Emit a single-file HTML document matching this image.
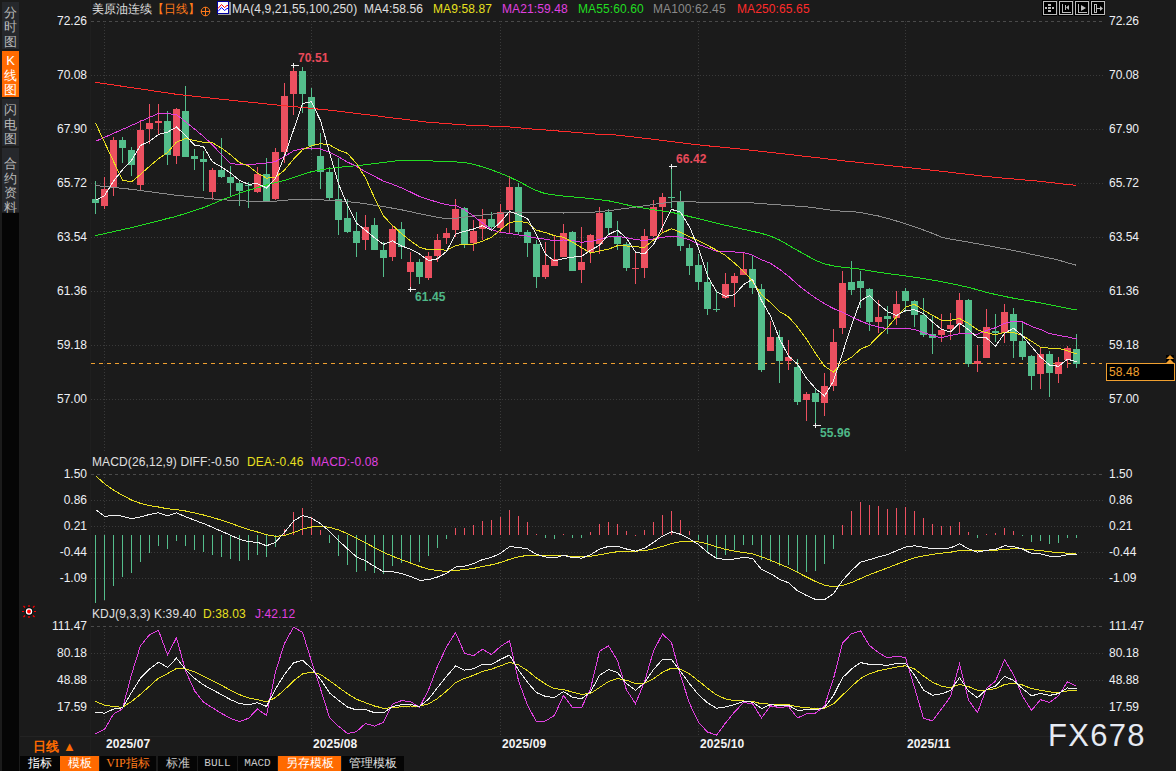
<!DOCTYPE html>
<html><head><meta charset="utf-8">
<style>
html,body{margin:0;padding:0;}
body{width:1176px;height:771px;overflow:hidden;background:#1b1b1b;position:relative;font-family:"Liberation Sans",sans-serif;font-size:12px;color:#e8e8e8;}
.t{position:absolute;white-space:nowrap;line-height:14px;letter-spacing:0.12px;}
.ax{position:absolute;white-space:nowrap;line-height:14px;color:#eef0f4;text-align:right;}
.axl{width:60px;left:27px;}
.axr{left:1109px;text-align:left;}
.side{position:absolute;left:2px;width:17px;background:#26282c;color:#b8b8b8;font-size:13px;line-height:14.5px;text-align:center;box-sizing:border-box;}
.tb{position:absolute;top:756px;height:15px;background:#050505;color:#d8d8d8;font-size:12px;line-height:15px;text-align:center;}
svg{position:absolute;left:0;top:0;}
</style></head><body>
<div class="side" style="top:2px;height:47px;padding-top:3.5px;">分<br>时<br>图</div>
<div class="side" style="top:51px;height:46px;background:#ff6a00;color:#fff;padding-top:3px;">K<br>线<br>图</div>
<div class="side" style="top:99px;height:47px;padding-top:4px;">闪<br>电<br>图</div>
<div class="side" style="top:148px;height:64px;padding-top:9px;">合<br>约<br>资<br>料</div>
<div style="position:absolute;left:2px;top:213px;width:17px;height:558px;background:#050505;"></div>

<svg width="1176" height="771">
<g shape-rendering="crispEdges">
<line x1="91" y1="21.5" x2="1104" y2="21.5" stroke="#4a4a4a" stroke-dasharray="3,3"/>
<line x1="91" y1="75.5" x2="1104" y2="75.5" stroke="#3a3a3a" stroke-dasharray="1,2"/>
<line x1="91" y1="129.5" x2="1104" y2="129.5" stroke="#3a3a3a" stroke-dasharray="1,2"/>
<line x1="91" y1="183.5" x2="1104" y2="183.5" stroke="#3a3a3a" stroke-dasharray="1,2"/>
<line x1="91" y1="237.5" x2="1104" y2="237.5" stroke="#3a3a3a" stroke-dasharray="1,2"/>
<line x1="91" y1="291.5" x2="1104" y2="291.5" stroke="#3a3a3a" stroke-dasharray="1,2"/>
<line x1="91" y1="345.5" x2="1104" y2="345.5" stroke="#3a3a3a" stroke-dasharray="1,2"/>
<line x1="91" y1="399.5" x2="1104" y2="399.5" stroke="#3a3a3a" stroke-dasharray="1,2"/>
<line x1="104.5" y1="21" x2="104.5" y2="451" stroke="#3a3a3a" stroke-dasharray="1,2"/>
<line x1="104.5" y1="474" x2="104.5" y2="603" stroke="#3a3a3a" stroke-dasharray="1,2"/>
<line x1="104.5" y1="626" x2="104.5" y2="735" stroke="#3a3a3a" stroke-dasharray="1,2"/>
<line x1="311.5" y1="21" x2="311.5" y2="451" stroke="#3a3a3a" stroke-dasharray="1,2"/>
<line x1="311.5" y1="474" x2="311.5" y2="603" stroke="#3a3a3a" stroke-dasharray="1,2"/>
<line x1="311.5" y1="626" x2="311.5" y2="735" stroke="#3a3a3a" stroke-dasharray="1,2"/>
<line x1="500.5" y1="21" x2="500.5" y2="451" stroke="#3a3a3a" stroke-dasharray="1,2"/>
<line x1="500.5" y1="474" x2="500.5" y2="603" stroke="#3a3a3a" stroke-dasharray="1,2"/>
<line x1="500.5" y1="626" x2="500.5" y2="735" stroke="#3a3a3a" stroke-dasharray="1,2"/>
<line x1="698.5" y1="21" x2="698.5" y2="451" stroke="#3a3a3a" stroke-dasharray="1,2"/>
<line x1="698.5" y1="474" x2="698.5" y2="603" stroke="#3a3a3a" stroke-dasharray="1,2"/>
<line x1="698.5" y1="626" x2="698.5" y2="735" stroke="#3a3a3a" stroke-dasharray="1,2"/>
<line x1="905.5" y1="21" x2="905.5" y2="451" stroke="#3a3a3a" stroke-dasharray="1,2"/>
<line x1="905.5" y1="474" x2="905.5" y2="603" stroke="#3a3a3a" stroke-dasharray="1,2"/>
<line x1="905.5" y1="626" x2="905.5" y2="735" stroke="#3a3a3a" stroke-dasharray="1,2"/>
<line x1="91" y1="474.5" x2="1104" y2="474.5" stroke="#4a4a4a" stroke-dasharray="3,3"/>
<line x1="91" y1="500.5" x2="1104" y2="500.5" stroke="#3a3a3a" stroke-dasharray="1,2"/>
<line x1="91" y1="526.5" x2="1104" y2="526.5" stroke="#3a3a3a" stroke-dasharray="1,2"/>
<line x1="91" y1="552.5" x2="1104" y2="552.5" stroke="#3a3a3a" stroke-dasharray="1,2"/>
<line x1="91" y1="578.5" x2="1104" y2="578.5" stroke="#3a3a3a" stroke-dasharray="1,2"/>
<line x1="91" y1="626.5" x2="1104" y2="626.5" stroke="#4a4a4a" stroke-dasharray="3,3"/>
<line x1="91" y1="653.5" x2="1104" y2="653.5" stroke="#3a3a3a" stroke-dasharray="1,2"/>
<line x1="91" y1="680.5" x2="1104" y2="680.5" stroke="#3a3a3a" stroke-dasharray="1,2"/>
<line x1="91" y1="707.5" x2="1104" y2="707.5" stroke="#3a3a3a" stroke-dasharray="1,2"/>
<line x1="90.5" y1="0" x2="90.5" y2="755" stroke="#1f1f1f"/>
<line x1="20" y1="736.5" x2="1104" y2="736.5" stroke="#232323"/>
</g>
<line x1="91" y1="363.5" x2="1102" y2="363.5" stroke="#f0a030" stroke-dasharray="4,4" shape-rendering="crispEdges"/>
<g shape-rendering="crispEdges">
<rect x="95" y="181" width="1" height="33" fill="#54be8c"/>
<rect x="92" y="199" width="7" height="4" fill="#54be8c"/>
<rect x="104" y="177" width="1" height="32" fill="#ec5060"/>
<rect x="101" y="189" width="7" height="17" fill="#ec5060"/>
<rect x="113" y="137" width="1" height="59" fill="#ec5060"/>
<rect x="110" y="140" width="7" height="48" fill="#ec5060"/>
<rect x="122" y="137" width="1" height="26" fill="#54be8c"/>
<rect x="119" y="140" width="7" height="8" fill="#54be8c"/>
<rect x="131" y="147" width="1" height="29" fill="#54be8c"/>
<rect x="128" y="150" width="7" height="15" fill="#54be8c"/>
<rect x="140" y="120" width="1" height="71" fill="#ec5060"/>
<rect x="137" y="130" width="7" height="55" fill="#ec5060"/>
<rect x="149" y="104" width="1" height="40" fill="#ec5060"/>
<rect x="146" y="123" width="7" height="6" fill="#ec5060"/>
<rect x="158" y="104" width="1" height="30" fill="#ec5060"/>
<rect x="155" y="121" width="7" height="2" fill="#ec5060"/>
<rect x="167" y="111" width="1" height="54" fill="#54be8c"/>
<rect x="164" y="121" width="7" height="34" fill="#54be8c"/>
<rect x="176" y="108" width="1" height="56" fill="#ec5060"/>
<rect x="173" y="109" width="7" height="47" fill="#ec5060"/>
<rect x="185" y="86" width="1" height="71" fill="#54be8c"/>
<rect x="182" y="111" width="7" height="46" fill="#54be8c"/>
<rect x="194" y="149" width="1" height="21" fill="#54be8c"/>
<rect x="191" y="156" width="7" height="3" fill="#54be8c"/>
<rect x="203" y="151" width="1" height="40" fill="#54be8c"/>
<rect x="200" y="159" width="7" height="3" fill="#54be8c"/>
<rect x="212" y="168" width="1" height="32" fill="#ec5060"/>
<rect x="209" y="170" width="7" height="22" fill="#ec5060"/>
<rect x="221" y="138" width="1" height="40" fill="#54be8c"/>
<rect x="218" y="170" width="7" height="7" fill="#54be8c"/>
<rect x="230" y="166" width="1" height="30" fill="#54be8c"/>
<rect x="227" y="177" width="7" height="6" fill="#54be8c"/>
<rect x="239" y="180" width="1" height="26" fill="#54be8c"/>
<rect x="236" y="183" width="7" height="8" fill="#54be8c"/>
<rect x="248" y="182" width="1" height="26" fill="#54be8c"/>
<rect x="245" y="185" width="7" height="1" fill="#54be8c"/>
<rect x="257" y="167" width="1" height="26" fill="#ec5060"/>
<rect x="254" y="174" width="7" height="18" fill="#ec5060"/>
<rect x="266" y="158" width="1" height="43" fill="#54be8c"/>
<rect x="263" y="174" width="7" height="27" fill="#54be8c"/>
<rect x="275" y="148" width="1" height="52" fill="#ec5060"/>
<rect x="272" y="152" width="7" height="47" fill="#ec5060"/>
<rect x="284" y="83" width="1" height="80" fill="#ec5060"/>
<rect x="281" y="96" width="7" height="56" fill="#ec5060"/>
<rect x="293" y="63" width="1" height="52" fill="#ec5060"/>
<rect x="290" y="71" width="7" height="23" fill="#ec5060"/>
<rect x="302" y="67" width="1" height="46" fill="#54be8c"/>
<rect x="299" y="71" width="7" height="23" fill="#54be8c"/>
<rect x="311" y="88" width="1" height="62" fill="#54be8c"/>
<rect x="308" y="97" width="7" height="49" fill="#54be8c"/>
<rect x="320" y="133" width="1" height="56" fill="#54be8c"/>
<rect x="317" y="156" width="7" height="16" fill="#54be8c"/>
<rect x="329" y="167" width="1" height="33" fill="#54be8c"/>
<rect x="326" y="172" width="7" height="26" fill="#54be8c"/>
<rect x="338" y="158" width="1" height="77" fill="#54be8c"/>
<rect x="335" y="199" width="7" height="21" fill="#54be8c"/>
<rect x="347" y="199" width="1" height="34" fill="#54be8c"/>
<rect x="344" y="218" width="7" height="14" fill="#54be8c"/>
<rect x="356" y="212" width="1" height="45" fill="#54be8c"/>
<rect x="353" y="231" width="7" height="12" fill="#54be8c"/>
<rect x="365" y="215" width="1" height="35" fill="#ec5060"/>
<rect x="362" y="227" width="7" height="13" fill="#ec5060"/>
<rect x="374" y="218" width="1" height="32" fill="#54be8c"/>
<rect x="371" y="225" width="7" height="25" fill="#54be8c"/>
<rect x="383" y="242" width="1" height="35" fill="#54be8c"/>
<rect x="380" y="250" width="7" height="8" fill="#54be8c"/>
<rect x="392" y="225" width="1" height="36" fill="#ec5060"/>
<rect x="389" y="229" width="7" height="28" fill="#ec5060"/>
<rect x="401" y="222" width="1" height="37" fill="#54be8c"/>
<rect x="398" y="229" width="7" height="18" fill="#54be8c"/>
<rect x="410" y="252" width="1" height="38" fill="#ec5060"/>
<rect x="407" y="262" width="7" height="10" fill="#ec5060"/>
<rect x="419" y="259" width="1" height="25" fill="#54be8c"/>
<rect x="416" y="262" width="7" height="15" fill="#54be8c"/>
<rect x="428" y="252" width="1" height="28" fill="#ec5060"/>
<rect x="425" y="256" width="7" height="22" fill="#ec5060"/>
<rect x="437" y="234" width="1" height="28" fill="#ec5060"/>
<rect x="434" y="240" width="7" height="16" fill="#ec5060"/>
<rect x="446" y="228" width="1" height="16" fill="#ec5060"/>
<rect x="443" y="233" width="7" height="5" fill="#ec5060"/>
<rect x="455" y="199" width="1" height="38" fill="#ec5060"/>
<rect x="452" y="209" width="7" height="21" fill="#ec5060"/>
<rect x="464" y="207" width="1" height="41" fill="#54be8c"/>
<rect x="461" y="208" width="7" height="36" fill="#54be8c"/>
<rect x="473" y="220" width="1" height="31" fill="#ec5060"/>
<rect x="470" y="231" width="7" height="12" fill="#ec5060"/>
<rect x="482" y="209" width="1" height="31" fill="#ec5060"/>
<rect x="479" y="219" width="7" height="10" fill="#ec5060"/>
<rect x="491" y="212" width="1" height="18" fill="#54be8c"/>
<rect x="488" y="219" width="7" height="8" fill="#54be8c"/>
<rect x="500" y="204" width="1" height="29" fill="#ec5060"/>
<rect x="497" y="212" width="7" height="16" fill="#ec5060"/>
<rect x="509" y="176" width="1" height="58" fill="#ec5060"/>
<rect x="506" y="187" width="7" height="23" fill="#ec5060"/>
<rect x="518" y="183" width="1" height="51" fill="#54be8c"/>
<rect x="515" y="187" width="7" height="45" fill="#54be8c"/>
<rect x="527" y="230" width="1" height="27" fill="#54be8c"/>
<rect x="524" y="232" width="7" height="11" fill="#54be8c"/>
<rect x="536" y="240" width="1" height="48" fill="#54be8c"/>
<rect x="533" y="244" width="7" height="33" fill="#54be8c"/>
<rect x="545" y="242" width="1" height="37" fill="#ec5060"/>
<rect x="542" y="265" width="7" height="12" fill="#ec5060"/>
<rect x="554" y="235" width="1" height="31" fill="#ec5060"/>
<rect x="551" y="259" width="7" height="7" fill="#ec5060"/>
<rect x="563" y="224" width="1" height="33" fill="#ec5060"/>
<rect x="560" y="233" width="7" height="24" fill="#ec5060"/>
<rect x="572" y="231" width="1" height="40" fill="#54be8c"/>
<rect x="569" y="232" width="7" height="39" fill="#54be8c"/>
<rect x="581" y="227" width="1" height="56" fill="#ec5060"/>
<rect x="578" y="262" width="7" height="8" fill="#ec5060"/>
<rect x="590" y="234" width="1" height="29" fill="#ec5060"/>
<rect x="587" y="235" width="7" height="17" fill="#ec5060"/>
<rect x="599" y="207" width="1" height="47" fill="#ec5060"/>
<rect x="596" y="213" width="7" height="31" fill="#ec5060"/>
<rect x="608" y="209" width="1" height="25" fill="#54be8c"/>
<rect x="605" y="212" width="7" height="16" fill="#54be8c"/>
<rect x="617" y="221" width="1" height="29" fill="#54be8c"/>
<rect x="614" y="237" width="7" height="7" fill="#54be8c"/>
<rect x="626" y="242" width="1" height="29" fill="#54be8c"/>
<rect x="623" y="244" width="7" height="24" fill="#54be8c"/>
<rect x="635" y="251" width="1" height="33" fill="#ec5060"/>
<rect x="632" y="268" width="7" height="1" fill="#ec5060"/>
<rect x="644" y="229" width="1" height="49" fill="#ec5060"/>
<rect x="641" y="236" width="7" height="32" fill="#ec5060"/>
<rect x="653" y="200" width="1" height="37" fill="#ec5060"/>
<rect x="650" y="207" width="7" height="29" fill="#ec5060"/>
<rect x="662" y="193" width="1" height="39" fill="#ec5060"/>
<rect x="659" y="197" width="7" height="10" fill="#ec5060"/>
<rect x="671" y="166" width="1" height="42" fill="#54be8c"/>
<rect x="668" y="197" width="7" height="1" fill="#54be8c"/>
<rect x="680" y="191" width="1" height="60" fill="#54be8c"/>
<rect x="677" y="202" width="7" height="44" fill="#54be8c"/>
<rect x="689" y="244" width="1" height="31" fill="#54be8c"/>
<rect x="686" y="248" width="7" height="18" fill="#54be8c"/>
<rect x="698" y="254" width="1" height="36" fill="#54be8c"/>
<rect x="695" y="265" width="7" height="17" fill="#54be8c"/>
<rect x="707" y="262" width="1" height="53" fill="#54be8c"/>
<rect x="704" y="282" width="7" height="27" fill="#54be8c"/>
<rect x="716" y="290" width="1" height="22" fill="#54be8c"/>
<rect x="713" y="309" width="7" height="1" fill="#54be8c"/>
<rect x="725" y="273" width="1" height="26" fill="#ec5060"/>
<rect x="722" y="284" width="7" height="14" fill="#ec5060"/>
<rect x="734" y="273" width="1" height="34" fill="#ec5060"/>
<rect x="731" y="276" width="7" height="7" fill="#ec5060"/>
<rect x="743" y="253" width="1" height="22" fill="#ec5060"/>
<rect x="740" y="269" width="7" height="6" fill="#ec5060"/>
<rect x="752" y="255" width="1" height="39" fill="#54be8c"/>
<rect x="749" y="269" width="7" height="19" fill="#54be8c"/>
<rect x="761" y="284" width="1" height="88" fill="#54be8c"/>
<rect x="758" y="289" width="7" height="81" fill="#54be8c"/>
<rect x="770" y="321" width="1" height="30" fill="#ec5060"/>
<rect x="767" y="337" width="7" height="14" fill="#ec5060"/>
<rect x="779" y="330" width="1" height="53" fill="#54be8c"/>
<rect x="776" y="337" width="7" height="24" fill="#54be8c"/>
<rect x="788" y="340" width="1" height="30" fill="#ec5060"/>
<rect x="785" y="357" width="7" height="4" fill="#ec5060"/>
<rect x="797" y="359" width="1" height="46" fill="#54be8c"/>
<rect x="794" y="367" width="7" height="35" fill="#54be8c"/>
<rect x="806" y="392" width="1" height="29" fill="#ec5060"/>
<rect x="803" y="394" width="7" height="6" fill="#ec5060"/>
<rect x="815" y="389" width="1" height="36" fill="#54be8c"/>
<rect x="812" y="393" width="7" height="9" fill="#54be8c"/>
<rect x="824" y="373" width="1" height="43" fill="#ec5060"/>
<rect x="821" y="386" width="7" height="17" fill="#ec5060"/>
<rect x="833" y="329" width="1" height="62" fill="#ec5060"/>
<rect x="830" y="342" width="7" height="44" fill="#ec5060"/>
<rect x="842" y="271" width="1" height="63" fill="#ec5060"/>
<rect x="839" y="283" width="7" height="45" fill="#ec5060"/>
<rect x="851" y="261" width="1" height="34" fill="#54be8c"/>
<rect x="848" y="282" width="7" height="8" fill="#54be8c"/>
<rect x="860" y="271" width="1" height="37" fill="#54be8c"/>
<rect x="857" y="281" width="7" height="7" fill="#54be8c"/>
<rect x="869" y="288" width="1" height="43" fill="#54be8c"/>
<rect x="866" y="289" width="7" height="33" fill="#54be8c"/>
<rect x="878" y="300" width="1" height="33" fill="#ec5060"/>
<rect x="875" y="317" width="7" height="5" fill="#ec5060"/>
<rect x="887" y="306" width="1" height="28" fill="#54be8c"/>
<rect x="884" y="316" width="7" height="3" fill="#54be8c"/>
<rect x="896" y="291" width="1" height="34" fill="#ec5060"/>
<rect x="893" y="304" width="7" height="14" fill="#ec5060"/>
<rect x="905" y="288" width="1" height="24" fill="#54be8c"/>
<rect x="902" y="291" width="7" height="10" fill="#54be8c"/>
<rect x="914" y="300" width="1" height="27" fill="#54be8c"/>
<rect x="911" y="301" width="7" height="14" fill="#54be8c"/>
<rect x="923" y="298" width="1" height="39" fill="#54be8c"/>
<rect x="920" y="315" width="7" height="20" fill="#54be8c"/>
<rect x="932" y="315" width="1" height="39" fill="#54be8c"/>
<rect x="929" y="334" width="7" height="4" fill="#54be8c"/>
<rect x="941" y="314" width="1" height="28" fill="#ec5060"/>
<rect x="938" y="330" width="7" height="5" fill="#ec5060"/>
<rect x="950" y="313" width="1" height="27" fill="#ec5060"/>
<rect x="947" y="325" width="7" height="4" fill="#ec5060"/>
<rect x="959" y="293" width="1" height="40" fill="#ec5060"/>
<rect x="956" y="300" width="7" height="24" fill="#ec5060"/>
<rect x="968" y="299" width="1" height="68" fill="#54be8c"/>
<rect x="965" y="300" width="7" height="64" fill="#54be8c"/>
<rect x="977" y="345" width="1" height="27" fill="#ec5060"/>
<rect x="974" y="361" width="7" height="3" fill="#ec5060"/>
<rect x="986" y="309" width="1" height="49" fill="#ec5060"/>
<rect x="983" y="327" width="7" height="31" fill="#ec5060"/>
<rect x="995" y="314" width="1" height="28" fill="#54be8c"/>
<rect x="992" y="331" width="7" height="2" fill="#54be8c"/>
<rect x="1004" y="304" width="1" height="39" fill="#ec5060"/>
<rect x="1001" y="312" width="7" height="21" fill="#ec5060"/>
<rect x="1013" y="308" width="1" height="50" fill="#54be8c"/>
<rect x="1010" y="314" width="7" height="27" fill="#54be8c"/>
<rect x="1022" y="323" width="1" height="37" fill="#54be8c"/>
<rect x="1019" y="341" width="7" height="16" fill="#54be8c"/>
<rect x="1031" y="355" width="1" height="35" fill="#54be8c"/>
<rect x="1028" y="356" width="7" height="20" fill="#54be8c"/>
<rect x="1040" y="348" width="1" height="41" fill="#ec5060"/>
<rect x="1037" y="354" width="7" height="20" fill="#ec5060"/>
<rect x="1049" y="351" width="1" height="46" fill="#54be8c"/>
<rect x="1046" y="354" width="7" height="19" fill="#54be8c"/>
<rect x="1058" y="357" width="1" height="26" fill="#ec5060"/>
<rect x="1055" y="362" width="7" height="12" fill="#ec5060"/>
<rect x="1067" y="346" width="1" height="22" fill="#ec5060"/>
<rect x="1064" y="348" width="7" height="12" fill="#ec5060"/>
<rect x="1076" y="334" width="1" height="34" fill="#54be8c"/>
<rect x="1073" y="349" width="7" height="15" fill="#54be8c"/>
</g>
<polyline fill="none" stroke="#ff2b2b" stroke-width="1" shape-rendering="crispEdges" points="95.5,82.3 104.5,83.6 113.5,85.0 122.5,86.3 131.5,87.6 140.5,88.9 149.5,90.3 158.5,91.6 167.5,93.0 176.5,94.3 185.5,95.3 194.5,96.3 203.5,97.3 212.5,98.3 221.5,99.3 230.5,100.2 239.5,101.2 248.5,102.1 257.5,103.0 266.5,104.0 275.5,104.9 284.5,105.8 293.5,106.6 302.5,107.5 311.5,108.4 320.5,109.3 329.5,110.2 338.5,111.2 347.5,112.3 356.5,113.4 365.5,114.5 374.5,115.6 383.5,116.8 392.5,117.9 401.5,119.0 410.5,120.1 419.5,121.2 428.5,122.3 437.5,122.9 446.5,123.6 455.5,124.3 464.5,124.9 473.5,125.5 482.5,125.8 491.5,126.1 500.5,126.4 509.5,127.0 518.5,127.8 527.5,128.6 536.5,129.4 545.5,130.0 554.5,130.7 563.5,131.4 572.5,132.1 581.5,132.9 590.5,133.7 599.5,134.3 608.5,134.3 617.5,135.2 626.5,136.2 635.5,137.2 644.5,138.3 653.5,139.3 662.5,140.4 671.5,141.5 680.5,142.7 689.5,143.8 698.5,144.9 707.5,145.8 716.5,146.7 725.5,147.6 734.5,148.5 743.5,149.4 752.5,150.4 761.5,151.4 770.5,152.4 779.5,153.4 788.5,154.4 797.5,155.4 806.5,156.5 815.5,157.5 824.5,158.6 833.5,159.6 842.5,160.7 851.5,161.7 860.5,162.6 869.5,163.6 878.5,164.5 887.5,165.4 896.5,166.4 905.5,167.3 914.5,168.3 923.5,169.3 932.5,170.3 941.5,171.3 950.5,172.3 959.5,173.4 968.5,174.4 977.5,175.4 986.5,176.5 995.5,177.4 1004.5,178.2 1013.5,179.0 1022.5,179.8 1031.5,180.5 1040.5,181.4 1049.5,182.4 1058.5,183.4 1067.5,184.5 1076.5,185.4"/>
<polyline fill="none" stroke="#8a8a8a" stroke-width="1" shape-rendering="crispEdges" points="95.5,185.5 104.5,186.5 113.5,187.4 122.5,188.4 131.5,189.3 140.5,190.5 149.5,191.7 158.5,192.9 167.5,194.1 176.5,195.3 185.5,196.2 194.5,197.1 203.5,198.0 212.5,198.9 221.5,199.7 230.5,200.2 239.5,200.7 248.5,201.1 257.5,201.6 266.5,201.9 275.5,201.1 284.5,200.3 293.5,199.5 302.5,199.1 311.5,199.2 320.5,199.8 329.5,200.3 338.5,200.8 347.5,201.7 356.5,202.6 365.5,203.8 374.5,205.2 383.5,206.5 392.5,208.2 401.5,209.8 410.5,211.7 419.5,213.7 428.5,215.6 437.5,217.2 446.5,218.8 455.5,218.3 464.5,217.1 473.5,216.0 482.5,215.1 491.5,214.2 500.5,213.3 509.5,212.4 518.5,212.0 527.5,212.2 536.5,212.5 545.5,212.7 554.5,212.9 563.5,213.0 572.5,212.9 581.5,212.8 590.5,212.5 599.5,211.6 608.5,210.7 617.5,209.5 626.5,208.3 635.5,207.1 644.5,205.8 653.5,204.4 662.5,203.2 671.5,202.0 680.5,201.5 689.5,201.8 698.5,202.1 707.5,202.1 716.5,202.1 725.5,202.1 734.5,202.1 743.5,202.2 752.5,202.9 761.5,203.6 770.5,204.3 779.5,204.9 788.5,205.6 797.5,206.2 806.5,206.8 815.5,207.9 824.5,209.2 833.5,210.5 842.5,211.2 851.5,211.5 860.5,212.5 869.5,214.3 878.5,216.0 887.5,218.3 896.5,221.0 905.5,223.7 914.5,226.9 923.5,230.0 932.5,233.4 941.5,237.1 950.5,239.2 959.5,240.6 968.5,242.1 977.5,243.8 986.5,245.4 995.5,247.1 1004.5,248.8 1013.5,250.4 1022.5,252.3 1031.5,254.3 1040.5,256.2 1049.5,258.1 1058.5,260.1 1067.5,262.8 1076.5,265.3"/>
<polyline fill="none" stroke="#22dd22" stroke-width="1" shape-rendering="crispEdges" points="95.5,235.6 104.5,233.6 113.5,231.6 122.5,229.6 131.5,227.6 140.5,225.3 149.5,223.1 158.5,220.8 167.5,218.5 176.5,216.3 185.5,213.4 194.5,210.6 203.5,207.7 212.5,203.9 221.5,200.1 230.5,196.7 239.5,193.3 248.5,190.3 257.5,187.6 266.5,185.0 275.5,182.7 284.5,180.4 293.5,177.5 302.5,174.4 311.5,171.7 320.5,170.0 329.5,168.4 338.5,167.4 347.5,166.5 356.5,165.7 365.5,164.7 374.5,163.6 383.5,162.5 392.5,161.3 401.5,160.3 410.5,160.5 419.5,160.7 428.5,160.9 437.5,161.1 446.5,161.4 455.5,161.9 464.5,162.5 473.5,164.4 482.5,166.8 491.5,169.9 500.5,173.2 509.5,177.1 518.5,181.3 527.5,186.1 536.5,190.6 545.5,193.7 554.5,195.0 563.5,196.1 572.5,196.9 581.5,197.7 590.5,198.6 599.5,199.7 608.5,200.8 617.5,202.7 626.5,204.8 635.5,206.7 644.5,208.2 653.5,209.7 662.5,211.1 671.5,212.4 680.5,214.2 689.5,216.5 698.5,218.7 707.5,220.9 716.5,223.2 725.5,225.3 734.5,227.3 743.5,229.3 752.5,231.3 761.5,233.4 770.5,236.1 779.5,240.0 788.5,245.2 797.5,250.4 806.5,255.4 815.5,260.4 824.5,263.9 833.5,265.9 842.5,267.3 851.5,268.2 860.5,269.2 869.5,270.7 878.5,272.2 887.5,273.5 896.5,274.7 905.5,275.9 914.5,277.2 923.5,278.6 932.5,280.1 941.5,281.7 950.5,283.4 959.5,285.4 968.5,287.4 977.5,289.8 986.5,292.3 995.5,294.5 1004.5,296.4 1013.5,298.2 1022.5,299.8 1031.5,301.3 1040.5,302.9 1049.5,304.7 1058.5,306.6 1067.5,308.4 1076.5,310.0"/>
<polyline fill="none" stroke="#e040e0" stroke-width="1" shape-rendering="crispEdges" points="95.5,141.3 104.5,137.3 113.5,133.3 122.5,129.4 131.5,125.4 140.5,121.4 149.5,117.4 158.5,113.4 167.5,113.7 176.5,114.6 185.5,121.8 194.5,129.0 203.5,136.5 212.5,144.9 221.5,154.5 230.5,163.2 239.5,164.9 248.5,164.8 257.5,163.9 266.5,163.0 275.5,161.6 284.5,156.5 293.5,150.9 302.5,148.7 311.5,148.6 320.5,149.0 329.5,152.2 338.5,156.9 347.5,162.1 356.5,166.3 365.5,171.9 374.5,176.4 383.5,181.1 392.5,184.3 401.5,187.9 410.5,192.0 419.5,196.5 428.5,199.6 437.5,202.1 446.5,204.9 455.5,205.3 464.5,209.6 473.5,216.0 482.5,223.1 491.5,229.5 500.5,232.6 509.5,233.3 518.5,235.0 527.5,236.1 536.5,238.2 545.5,239.2 554.5,240.8 563.5,240.0 572.5,240.6 581.5,242.2 590.5,241.6 599.5,239.3 608.5,236.9 617.5,236.4 626.5,237.7 635.5,239.4 644.5,240.7 653.5,238.9 662.5,237.3 671.5,236.3 680.5,237.2 689.5,239.8 698.5,244.3 707.5,247.9 716.5,251.1 725.5,251.5 734.5,252.0 743.5,252.5 752.5,255.1 761.5,259.8 770.5,263.3 779.5,269.3 788.5,276.2 797.5,284.5 806.5,291.6 815.5,298.0 824.5,303.6 833.5,308.6 842.5,312.3 851.5,316.7 860.5,321.0 869.5,324.6 878.5,327.0 887.5,328.8 896.5,328.6 905.5,328.1 914.5,329.6 923.5,332.4 932.5,335.7 941.5,337.7 950.5,335.5 959.5,333.8 968.5,333.9 977.5,334.1 986.5,330.6 995.5,327.7 1004.5,323.4 1013.5,321.2 1022.5,322.0 1031.5,326.4 1040.5,329.5 1049.5,333.5 1058.5,335.4 1067.5,336.9 1076.5,339.0"/>
<polyline fill="none" stroke="#e8e020" stroke-width="1" shape-rendering="crispEdges" points="95.5,123.0 104.5,142.2 113.5,161.4 122.5,180.0 131.5,181.9 140.5,174.4 149.5,166.3 158.5,158.8 167.5,152.5 176.5,142.1 185.5,138.5 194.5,140.6 203.5,142.2 212.5,142.8 221.5,148.1 230.5,154.8 239.5,162.6 248.5,166.0 257.5,173.2 266.5,178.1 275.5,177.4 284.5,170.1 293.5,159.1 302.5,149.8 311.5,145.7 320.5,143.6 329.5,144.9 338.5,150.0 347.5,153.4 356.5,163.5 365.5,178.0 374.5,197.9 383.5,216.1 392.5,225.3 401.5,233.7 410.5,240.8 419.5,247.2 428.5,249.9 437.5,249.6 446.5,250.2 455.5,245.7 464.5,244.1 473.5,244.3 482.5,241.1 491.5,237.3 500.5,230.0 509.5,222.4 518.5,221.5 527.5,222.6 536.5,230.2 545.5,232.6 554.5,235.7 563.5,237.3 572.5,242.1 581.5,247.7 590.5,253.0 599.5,250.9 608.5,249.2 617.5,245.6 626.5,246.0 635.5,246.9 644.5,247.2 653.5,240.1 662.5,232.8 671.5,228.7 680.5,232.4 689.5,236.6 698.5,240.8 707.5,245.4 716.5,250.1 725.5,255.5 734.5,263.1 743.5,271.2 752.5,281.1 761.5,294.8 770.5,302.7 779.5,311.5 788.5,316.8 797.5,327.0 806.5,339.2 815.5,353.2 824.5,366.2 833.5,372.2 842.5,362.5 851.5,357.3 860.5,349.2 869.5,345.3 878.5,336.0 887.5,327.6 896.5,316.8 905.5,307.3 914.5,304.3 923.5,310.1 932.5,315.4 941.5,320.1 950.5,320.4 959.5,318.5 968.5,323.4 977.5,329.8 986.5,332.7 995.5,334.7 1004.5,332.2 1013.5,332.6 1022.5,335.5 1031.5,341.2 1040.5,347.2 1049.5,348.2 1058.5,348.4 1067.5,350.7 1076.5,354.0"/>
<polyline fill="none" stroke="#f0f0f0" stroke-width="1" shape-rendering="crispEdges" points="95.5,200.4 104.5,195.8 113.5,181.0 122.5,169.8 131.5,160.3 140.5,145.5 149.5,141.2 158.5,134.4 167.5,132.1 176.5,127.0 185.5,135.5 194.5,145.0 203.5,146.7 212.5,161.9 221.5,167.0 230.5,173.0 239.5,180.3 248.5,184.3 257.5,183.6 266.5,188.0 275.5,178.4 284.5,156.0 293.5,130.1 302.5,103.4 311.5,101.8 320.5,120.6 329.5,152.4 338.5,183.9 347.5,205.3 356.5,223.1 365.5,230.3 374.5,237.8 383.5,244.4 392.5,240.9 401.5,246.0 410.5,249.1 419.5,253.9 428.5,260.6 437.5,258.8 446.5,251.4 455.5,234.3 464.5,231.3 473.5,229.0 482.5,225.6 491.5,230.2 500.5,222.3 509.5,211.3 518.5,214.7 527.5,218.5 536.5,234.7 545.5,254.2 554.5,260.9 563.5,258.5 572.5,257.1 581.5,256.4 590.5,250.3 599.5,245.3 608.5,234.5 617.5,230.1 626.5,238.3 635.5,252.0 644.5,253.9 653.5,244.6 662.5,226.8 671.5,209.4 680.5,212.1 689.5,226.8 698.5,248.1 707.5,275.8 716.5,291.7 725.5,296.2 734.5,294.8 743.5,284.7 752.5,279.2 761.5,300.7 770.5,315.9 779.5,338.8 788.5,356.1 797.5,364.0 806.5,378.3 815.5,388.5 824.5,395.9 833.5,380.9 842.5,353.2 851.5,325.2 860.5,300.7 869.5,295.7 878.5,304.2 887.5,311.6 896.5,315.6 905.5,310.4 914.5,309.7 923.5,313.6 932.5,322.0 941.5,329.3 950.5,331.9 959.5,323.2 968.5,329.7 977.5,337.5 986.5,337.9 995.5,346.3 1004.5,333.3 1013.5,328.3 1022.5,335.8 1031.5,346.5 1040.5,357.0 1049.5,365.0 1058.5,366.3 1067.5,359.2 1076.5,361.6"/>
<g fill="#f0f0f0" shape-rendering="crispEdges"><rect x="291" y="65" width="8" height="1"/><rect x="293" y="63" width="1" height="5"/></g>
<g fill="#f0f0f0" shape-rendering="crispEdges"><rect x="408" y="289" width="8" height="1"/><rect x="410" y="287" width="1" height="5"/></g>
<g fill="#f0f0f0" shape-rendering="crispEdges"><rect x="669" y="166" width="8" height="1"/><rect x="671" y="164" width="1" height="5"/></g>
<g fill="#f0f0f0" shape-rendering="crispEdges"><rect x="813" y="425" width="8" height="1"/><rect x="815" y="423" width="1" height="5"/></g>
<g shape-rendering="crispEdges">
<rect x="95" y="535" width="1" height="68" fill="#54be8c"/>
<rect x="104" y="535" width="1" height="65" fill="#54be8c"/>
<rect x="113" y="535" width="1" height="51" fill="#54be8c"/>
<rect x="122" y="535" width="1" height="42" fill="#54be8c"/>
<rect x="131" y="535" width="1" height="38" fill="#54be8c"/>
<rect x="140" y="535" width="1" height="27" fill="#54be8c"/>
<rect x="149" y="535" width="1" height="18" fill="#54be8c"/>
<rect x="158" y="535" width="1" height="11" fill="#54be8c"/>
<rect x="167" y="535" width="1" height="14" fill="#54be8c"/>
<rect x="176" y="535" width="1" height="6" fill="#54be8c"/>
<rect x="185" y="535" width="1" height="11" fill="#54be8c"/>
<rect x="194" y="535" width="1" height="15" fill="#54be8c"/>
<rect x="203" y="535" width="1" height="17" fill="#54be8c"/>
<rect x="212" y="535" width="1" height="20" fill="#54be8c"/>
<rect x="221" y="535" width="1" height="22" fill="#54be8c"/>
<rect x="230" y="535" width="1" height="24" fill="#54be8c"/>
<rect x="239" y="535" width="1" height="26" fill="#54be8c"/>
<rect x="248" y="535" width="1" height="25" fill="#54be8c"/>
<rect x="257" y="535" width="1" height="20" fill="#54be8c"/>
<rect x="266" y="535" width="1" height="22" fill="#54be8c"/>
<rect x="275" y="535" width="1" height="12" fill="#54be8c"/>
<rect x="284" y="529" width="1" height="6" fill="#ec5060"/>
<rect x="293" y="512" width="1" height="23" fill="#ec5060"/>
<rect x="302" y="508" width="1" height="27" fill="#ec5060"/>
<rect x="311" y="517" width="1" height="18" fill="#ec5060"/>
<rect x="320" y="530" width="1" height="5" fill="#ec5060"/>
<rect x="329" y="535" width="1" height="8" fill="#54be8c"/>
<rect x="338" y="535" width="1" height="21" fill="#54be8c"/>
<rect x="347" y="535" width="1" height="30" fill="#54be8c"/>
<rect x="356" y="535" width="1" height="37" fill="#54be8c"/>
<rect x="365" y="535" width="1" height="36" fill="#54be8c"/>
<rect x="374" y="535" width="1" height="38" fill="#54be8c"/>
<rect x="383" y="535" width="1" height="39" fill="#54be8c"/>
<rect x="392" y="535" width="1" height="31" fill="#54be8c"/>
<rect x="401" y="535" width="1" height="28" fill="#54be8c"/>
<rect x="410" y="535" width="1" height="27" fill="#54be8c"/>
<rect x="419" y="535" width="1" height="27" fill="#54be8c"/>
<rect x="428" y="535" width="1" height="21" fill="#54be8c"/>
<rect x="437" y="535" width="1" height="13" fill="#54be8c"/>
<rect x="446" y="535" width="1" height="4" fill="#54be8c"/>
<rect x="455" y="528" width="1" height="7" fill="#ec5060"/>
<rect x="464" y="528" width="1" height="7" fill="#ec5060"/>
<rect x="473" y="525" width="1" height="10" fill="#ec5060"/>
<rect x="482" y="521" width="1" height="14" fill="#ec5060"/>
<rect x="491" y="520" width="1" height="15" fill="#ec5060"/>
<rect x="500" y="517" width="1" height="18" fill="#ec5060"/>
<rect x="509" y="510" width="1" height="25" fill="#ec5060"/>
<rect x="518" y="516" width="1" height="19" fill="#ec5060"/>
<rect x="527" y="522" width="1" height="13" fill="#ec5060"/>
<rect x="536" y="534" width="1" height="1" fill="#ec5060"/>
<rect x="545" y="535" width="1" height="3" fill="#54be8c"/>
<rect x="554" y="535" width="1" height="4" fill="#54be8c"/>
<rect x="563" y="534" width="1" height="1" fill="#ec5060"/>
<rect x="572" y="535" width="1" height="3" fill="#54be8c"/>
<rect x="581" y="535" width="1" height="3" fill="#54be8c"/>
<rect x="590" y="532" width="1" height="3" fill="#ec5060"/>
<rect x="599" y="524" width="1" height="11" fill="#ec5060"/>
<rect x="608" y="522" width="1" height="13" fill="#ec5060"/>
<rect x="617" y="524" width="1" height="11" fill="#ec5060"/>
<rect x="626" y="531" width="1" height="4" fill="#ec5060"/>
<rect x="635" y="535" width="1" height="1" fill="#ec5060"/>
<rect x="644" y="530" width="1" height="5" fill="#ec5060"/>
<rect x="653" y="522" width="1" height="13" fill="#ec5060"/>
<rect x="662" y="515" width="1" height="20" fill="#ec5060"/>
<rect x="671" y="511" width="1" height="24" fill="#ec5060"/>
<rect x="680" y="520" width="1" height="15" fill="#ec5060"/>
<rect x="689" y="531" width="1" height="4" fill="#ec5060"/>
<rect x="698" y="535" width="1" height="5" fill="#54be8c"/>
<rect x="707" y="535" width="1" height="17" fill="#54be8c"/>
<rect x="716" y="535" width="1" height="23" fill="#54be8c"/>
<rect x="725" y="535" width="1" height="20" fill="#54be8c"/>
<rect x="734" y="535" width="1" height="15" fill="#54be8c"/>
<rect x="743" y="535" width="1" height="10" fill="#54be8c"/>
<rect x="752" y="535" width="1" height="10" fill="#54be8c"/>
<rect x="761" y="535" width="1" height="25" fill="#54be8c"/>
<rect x="770" y="535" width="1" height="27" fill="#54be8c"/>
<rect x="779" y="535" width="1" height="31" fill="#54be8c"/>
<rect x="788" y="535" width="1" height="30" fill="#54be8c"/>
<rect x="797" y="535" width="1" height="37" fill="#54be8c"/>
<rect x="806" y="535" width="1" height="37" fill="#54be8c"/>
<rect x="815" y="535" width="1" height="36" fill="#54be8c"/>
<rect x="824" y="535" width="1" height="29" fill="#54be8c"/>
<rect x="833" y="535" width="1" height="14" fill="#54be8c"/>
<rect x="842" y="525" width="1" height="10" fill="#ec5060"/>
<rect x="851" y="511" width="1" height="24" fill="#ec5060"/>
<rect x="860" y="502" width="1" height="33" fill="#ec5060"/>
<rect x="869" y="505" width="1" height="30" fill="#ec5060"/>
<rect x="878" y="506" width="1" height="29" fill="#ec5060"/>
<rect x="887" y="509" width="1" height="26" fill="#ec5060"/>
<rect x="896" y="508" width="1" height="27" fill="#ec5060"/>
<rect x="905" y="507" width="1" height="28" fill="#ec5060"/>
<rect x="914" y="511" width="1" height="24" fill="#ec5060"/>
<rect x="923" y="518" width="1" height="17" fill="#ec5060"/>
<rect x="932" y="524" width="1" height="11" fill="#ec5060"/>
<rect x="941" y="526" width="1" height="9" fill="#ec5060"/>
<rect x="950" y="526" width="1" height="9" fill="#ec5060"/>
<rect x="959" y="522" width="1" height="13" fill="#ec5060"/>
<rect x="968" y="532" width="1" height="3" fill="#ec5060"/>
<rect x="977" y="535" width="1" height="3" fill="#54be8c"/>
<rect x="986" y="534" width="1" height="1" fill="#ec5060"/>
<rect x="995" y="533" width="1" height="2" fill="#ec5060"/>
<rect x="1004" y="528" width="1" height="7" fill="#ec5060"/>
<rect x="1013" y="531" width="1" height="4" fill="#ec5060"/>
<rect x="1022" y="535" width="1" height="1" fill="#54be8c"/>
<rect x="1031" y="535" width="1" height="7" fill="#54be8c"/>
<rect x="1040" y="535" width="1" height="6" fill="#54be8c"/>
<rect x="1049" y="535" width="1" height="9" fill="#54be8c"/>
<rect x="1058" y="535" width="1" height="8" fill="#54be8c"/>
<rect x="1067" y="535" width="1" height="3" fill="#54be8c"/>
<rect x="1076" y="535" width="1" height="3" fill="#54be8c"/>
</g>
<polyline fill="none" stroke="#e8e020" stroke-width="1" shape-rendering="crispEdges" points="95.5,475.6 104.5,483.7 113.5,490.1 122.5,495.3 131.5,500.0 140.5,503.4 149.5,505.6 158.5,507.0 167.5,508.8 176.5,509.6 185.5,511.0 194.5,512.9 203.5,515.0 212.5,517.5 221.5,520.2 230.5,523.2 239.5,526.4 248.5,529.5 257.5,532.0 266.5,534.8 275.5,536.3 284.5,535.5 293.5,532.6 302.5,529.2 311.5,527.0 320.5,526.3 329.5,527.3 338.5,529.9 347.5,533.7 356.5,538.4 365.5,542.8 374.5,547.6 383.5,552.4 392.5,556.2 401.5,559.7 410.5,563.0 419.5,566.4 428.5,569.1 437.5,570.7 446.5,571.3 455.5,570.4 464.5,569.6 473.5,568.4 482.5,566.6 491.5,564.8 500.5,562.5 509.5,559.3 518.5,556.9 527.5,555.3 536.5,555.1 545.5,555.5 554.5,556.0 563.5,555.8 572.5,556.2 581.5,556.6 590.5,556.2 599.5,554.8 608.5,553.1 617.5,551.7 626.5,551.2 635.5,551.2 644.5,550.6 653.5,548.9 662.5,546.4 671.5,543.5 680.5,541.6 689.5,541.1 698.5,541.8 707.5,543.9 716.5,546.8 725.5,549.3 734.5,551.2 743.5,552.5 752.5,553.7 761.5,556.8 770.5,560.2 779.5,564.0 788.5,567.8 797.5,572.4 806.5,577.0 815.5,581.5 824.5,585.1 833.5,586.8 842.5,585.6 851.5,582.6 860.5,578.5 869.5,574.7 878.5,571.2 887.5,567.9 896.5,564.4 905.5,561.0 914.5,557.9 923.5,555.8 932.5,554.4 941.5,553.2 950.5,552.2 959.5,550.5 968.5,550.2 977.5,550.6 986.5,550.5 995.5,550.3 1004.5,549.4 1013.5,548.8 1022.5,548.9 1031.5,549.8 1040.5,550.6 1049.5,551.7 1058.5,552.7 1067.5,553.1 1076.5,553.4"/>
<polyline fill="none" stroke="#f0f0f0" stroke-width="1" shape-rendering="crispEdges" points="95.5,509.6 104.5,516.3 113.5,515.5 122.5,516.1 131.5,518.9 140.5,516.8 149.5,514.5 158.5,512.7 167.5,515.9 176.5,512.8 185.5,516.7 194.5,520.2 203.5,523.5 212.5,527.3 221.5,531.3 230.5,535.2 239.5,539.3 248.5,541.8 257.5,542.2 266.5,545.8 275.5,542.3 284.5,532.3 293.5,521.1 302.5,515.5 311.5,518.1 320.5,523.6 329.5,531.4 338.5,540.4 347.5,548.9 356.5,556.9 365.5,560.8 374.5,566.5 383.5,571.7 392.5,571.6 401.5,573.5 410.5,576.4 419.5,580.2 428.5,579.8 437.5,577.0 446.5,573.4 455.5,567.1 464.5,566.2 473.5,563.6 482.5,559.6 491.5,557.3 500.5,553.3 509.5,546.7 518.5,547.3 527.5,548.9 536.5,554.4 545.5,557.0 554.5,558.0 563.5,555.2 572.5,557.6 581.5,558.1 590.5,554.8 599.5,549.1 608.5,546.4 617.5,546.2 626.5,549.0 635.5,551.1 644.5,548.3 653.5,542.3 662.5,536.2 671.5,531.7 680.5,534.3 689.5,538.9 698.5,544.5 707.5,552.3 716.5,558.3 725.5,559.4 734.5,559.0 743.5,557.4 752.5,558.4 761.5,569.5 770.5,573.5 779.5,579.3 788.5,582.8 797.5,590.8 806.5,595.5 815.5,599.4 824.5,599.8 833.5,593.6 842.5,580.5 851.5,570.6 860.5,562.2 869.5,559.7 878.5,556.9 887.5,554.6 896.5,550.7 905.5,547.1 914.5,545.8 923.5,547.3 932.5,548.7 941.5,548.7 950.5,547.9 959.5,543.8 968.5,548.8 977.5,552.2 986.5,550.2 995.5,549.4 1004.5,545.8 1013.5,546.6 1022.5,549.1 1031.5,553.4 1040.5,553.8 1049.5,556.2 1058.5,556.5 1067.5,554.6 1076.5,555.0"/>
<polyline fill="none" stroke="#e8e020" stroke-width="1" shape-rendering="crispEdges" points="95.5,701.5 104.5,705.1 113.5,706.6 122.5,707.3 131.5,701.5 140.5,694.3 149.5,686.2 158.5,678.1 167.5,673.6 176.5,668.5 185.5,668.8 194.5,671.9 203.5,676.2 212.5,680.8 221.5,685.4 230.5,690.1 239.5,694.6 248.5,698.0 257.5,699.6 266.5,701.9 275.5,697.5 284.5,689.8 293.5,680.9 302.5,673.9 311.5,672.1 320.5,674.5 329.5,680.7 338.5,687.2 347.5,693.8 356.5,699.2 365.5,702.7 374.5,706.0 383.5,708.3 392.5,707.7 401.5,706.7 410.5,706.0 419.5,706.2 428.5,703.9 437.5,698.5 446.5,691.1 455.5,682.7 464.5,678.5 473.5,675.3 482.5,671.5 491.5,669.1 500.5,665.9 509.5,662.3 518.5,664.9 527.5,670.7 536.5,678.0 545.5,684.1 554.5,688.6 563.5,689.6 572.5,692.1 581.5,694.3 590.5,693.6 599.5,687.5 608.5,681.6 617.5,678.6 626.5,680.2 635.5,683.6 644.5,683.3 653.5,678.7 662.5,672.3 671.5,668.1 680.5,669.1 689.5,674.0 698.5,680.9 707.5,688.2 716.5,694.9 725.5,698.9 734.5,700.8 743.5,701.0 752.5,701.4 761.5,703.8 770.5,704.1 779.5,704.6 788.5,704.8 797.5,706.7 806.5,707.7 815.5,708.5 824.5,708.2 833.5,703.9 842.5,695.2 851.5,686.4 860.5,678.5 869.5,673.8 878.5,670.7 887.5,668.9 896.5,667.1 905.5,665.7 914.5,668.9 923.5,675.9 932.5,682.3 941.5,686.2 950.5,687.7 959.5,684.3 968.5,686.6 977.5,690.3 986.5,690.0 995.5,688.7 1004.5,684.6 1013.5,683.2 1022.5,685.0 1031.5,688.6 1040.5,690.2 1049.5,691.9 1058.5,692.5 1067.5,690.9 1076.5,690.3"/>
<polyline fill="none" stroke="#e040e0" stroke-width="1" shape-rendering="crispEdges" points="95.5,733.9 104.5,729.4 113.5,714.1 122.5,708.8 131.5,674.5 140.5,645.7 149.5,634.9 158.5,630.4 167.5,654.7 176.5,637.7 185.5,670.6 194.5,690.7 203.5,702.2 212.5,707.8 221.5,713.4 230.5,718.4 239.5,721.6 248.5,718.3 257.5,709.1 266.5,715.5 275.5,671.7 284.5,643.5 293.5,627.2 302.5,632.3 311.5,661.3 320.5,688.9 329.5,717.4 338.5,726.2 347.5,733.5 356.5,731.6 365.5,723.5 374.5,726.1 383.5,722.4 392.5,704.1 401.5,700.6 410.5,701.6 419.5,707.3 428.5,689.9 437.5,666.2 446.5,646.9 455.5,632.5 464.5,653.2 473.5,655.7 482.5,649.2 491.5,654.6 500.5,646.4 509.5,640.7 518.5,680.7 527.5,705.4 536.5,721.8 545.5,721.0 554.5,715.4 563.5,695.4 572.5,707.5 581.5,707.7 590.5,688.9 599.5,651.2 608.5,645.8 617.5,660.7 626.5,690.0 635.5,703.6 644.5,681.8 653.5,651.0 662.5,633.9 671.5,642.6 680.5,675.5 689.5,703.3 698.5,722.4 707.5,732.0 716.5,735.1 725.5,723.0 734.5,712.0 743.5,702.6 752.5,703.6 761.5,717.9 770.5,705.8 779.5,707.6 788.5,706.5 797.5,717.9 806.5,713.9 815.5,713.1 824.5,706.2 833.5,678.5 842.5,643.1 851.5,633.7 860.5,630.8 869.5,645.5 878.5,652.6 887.5,657.9 896.5,656.1 905.5,657.7 914.5,687.6 923.5,718.4 932.5,720.8 941.5,709.0 950.5,696.6 959.5,664.1 968.5,700.2 977.5,712.5 986.5,688.3 995.5,681.2 1004.5,659.8 1013.5,674.5 1022.5,696.2 1031.5,710.3 1040.5,699.7 1049.5,702.4 1058.5,695.7 1067.5,681.7 1076.5,686.4"/>
<polyline fill="none" stroke="#f0f0f0" stroke-width="1" shape-rendering="crispEdges" points="95.5,712.3 104.5,713.2 113.5,709.1 122.5,707.8 131.5,692.5 140.5,678.1 149.5,669.1 158.5,662.2 167.5,667.3 176.5,658.2 185.5,669.4 194.5,678.2 203.5,684.9 212.5,689.8 221.5,694.7 230.5,699.6 239.5,703.6 248.5,704.8 257.5,702.7 266.5,706.4 275.5,688.9 284.5,674.4 293.5,663.0 302.5,660.1 311.5,668.5 320.5,679.3 329.5,692.9 338.5,700.2 347.5,707.0 356.5,710.0 365.5,709.6 374.5,712.7 383.5,713.0 392.5,706.5 401.5,704.7 410.5,704.5 419.5,706.5 428.5,699.2 437.5,687.7 446.5,676.4 455.5,666.0 464.5,670.1 473.5,668.7 482.5,664.1 491.5,664.3 500.5,659.4 509.5,655.1 518.5,670.1 527.5,682.3 536.5,692.6 545.5,696.4 554.5,697.5 563.5,691.5 572.5,697.2 581.5,698.8 590.5,692.0 599.5,675.4 608.5,669.6 617.5,672.6 626.5,683.5 635.5,690.2 644.5,682.8 653.5,669.5 662.5,659.5 671.5,659.6 680.5,671.3 689.5,683.8 698.5,694.8 707.5,702.8 716.5,708.3 725.5,706.9 734.5,704.5 743.5,701.6 752.5,702.1 761.5,708.5 770.5,704.6 779.5,705.6 788.5,705.4 797.5,710.4 806.5,709.8 815.5,710.0 824.5,707.5 833.5,695.4 842.5,677.8 851.5,668.9 860.5,662.6 869.5,664.4 878.5,664.7 887.5,665.3 896.5,663.4 905.5,663.1 914.5,675.1 923.5,690.1 932.5,695.2 941.5,693.8 950.5,690.6 959.5,677.5 968.5,691.1 977.5,697.7 986.5,689.4 995.5,686.2 1004.5,676.3 1013.5,680.3 1022.5,688.7 1031.5,695.8 1040.5,693.4 1049.5,695.4 1058.5,693.6 1067.5,687.9 1076.5,689.0"/>
<rect x="1166" y="355" width="8" height="8" fill="#000"/>
<path d="M1166,359 L1170,355 L1174,359 Z M1166,363 L1170,359 L1174,363 Z" fill="#f0a030"/>
<g stroke="#ff7a1a" fill="none" stroke-width="1"><circle cx="205.5" cy="11.5" r="4.3"/><line x1="201" y1="11.5" x2="210" y2="11.5"/><line x1="205.5" y1="7" x2="205.5" y2="16"/></g>
<rect x="229" y="2" width="2" height="13" fill="#999"/><rect x="218" y="13" width="13" height="2" fill="#999"/>
<rect x="217" y="1" width="12" height="13" fill="#0000a0"/><rect x="218" y="2" width="10" height="11" fill="#fff"/>
<polyline points="218,8.5 221.5,4.5 224.5,7.5 227,5.5 228,5.5" fill="none" stroke="#f00" stroke-width="1"/>
<polyline points="218,11.5 221.5,7.5 224.5,10.5 227,8.5 228,8.5" fill="none" stroke="#00f" stroke-width="1"/>
<circle cx="29" cy="611.5" r="4.2" fill="#000"/><circle cx="29" cy="611.5" r="3.2" fill="#fff"/><circle cx="29" cy="611.5" r="1.9" fill="#f00"/>
<g stroke="#f00" stroke-width="1.2"><line x1="29" y1="605" x2="29" y2="607"/><line x1="29" y1="616" x2="29" y2="618"/><line x1="22" y1="611.5" x2="24" y2="611.5"/><line x1="34" y1="611.5" x2="36" y2="611.5"/><line x1="23.5" y1="606" x2="25" y2="607.5"/><line x1="34.5" y1="606" x2="33" y2="607.5"/><line x1="23.5" y1="617" x2="25" y2="615.5"/><line x1="34.5" y1="617" x2="33" y2="615.5"/></g>
<rect x="1042" y="0" width="15" height="16" fill="#000"/>
<rect x="1043.5" y="1.5" width="13" height="13" fill="none" stroke="#bdbdbd" stroke-width="1"/>
<rect x="1058" y="0" width="15" height="16" fill="#000"/>
<rect x="1059.5" y="1.5" width="13" height="13" fill="none" stroke="#bdbdbd" stroke-width="1"/>
<rect x="1074" y="0" width="15" height="16" fill="#000"/>
<rect x="1075.5" y="1.5" width="13" height="13" fill="none" stroke="#bdbdbd" stroke-width="1"/>
<rect x="1090" y="0" width="15" height="16" fill="#000"/>
<rect x="1091.5" y="1.5" width="13" height="13" fill="none" stroke="#bdbdbd" stroke-width="1"/>
<g fill="#bdbdbd" shape-rendering="crispEdges"><rect x="1048" y="4" width="3" height="2"/><rect x="1048" y="7" width="3" height="2"/><rect x="1048" y="10" width="3" height="2"/><rect x="1045" y="7" width="2" height="2"/><rect x="1052" y="7" width="2" height="2"/></g>
<g stroke="#bdbdbd" fill="none" shape-rendering="crispEdges"><line x1="1062.5" y1="4" x2="1062.5" y2="13"/><line x1="1062" y1="12.5" x2="1071" y2="12.5"/><line x1="1065.5" y1="5" x2="1065.5" y2="10"/></g><path d="M1066,7.5 L1069,5 L1069,10 Z" fill="#bdbdbd"/>
<g stroke="#bdbdbd" fill="none" shape-rendering="crispEdges"><line x1="1078.5" y1="4" x2="1078.5" y2="13"/><line x1="1078" y1="12.5" x2="1087" y2="12.5"/></g><path d="M1081,5 L1086,8 L1081,11 Z" fill="#bdbdbd"/>
<g stroke="#bdbdbd" fill="none" shape-rendering="crispEdges"><rect x="1094.5" y="4.5" width="2" height="8"/><line x1="1097" y1="8.5" x2="1101" y2="8.5"/></g><path d="M1100,6 L1103,8.5 L1100,11 Z" fill="#bdbdbd"/>
</svg>

<div class="t" style="left:92px;top:2px;color:#e0e0e0;">美原油连续</div>
<div class="t" style="left:152px;top:2px;color:#ff7a1a;">【日线】</div>
<div class="t" style="left:232px;top:2px;color:#e0e0e0;">MA(4,9,21,55,100,250)</div>
<div class="t" style="left:364px;top:2px;color:#e0e0e0;">MA4:58.56</div>
<div class="t" style="left:433px;top:2px;color:#e8e020;">MA9:58.87</div>
<div class="t" style="left:502px;top:2px;color:#e040e0;">MA21:59.48</div>
<div class="t" style="left:578px;top:2px;color:#22dd22;">MA55:60.60</div>
<div class="t" style="left:653px;top:2px;color:#8a8a8a;">MA100:62.45</div>
<div class="t" style="left:737px;top:2px;color:#ff2b2b;">MA250:65.65</div>

<!-- price axis -->
<div class="ax axl" style="top:14px;">72.26</div>
<div class="ax axl" style="top:68px;">70.08</div>
<div class="ax axl" style="top:122px;">67.90</div>
<div class="ax axl" style="top:176px;">65.72</div>
<div class="ax axl" style="top:230px;">63.54</div>
<div class="ax axl" style="top:284px;">61.36</div>
<div class="ax axl" style="top:338px;">59.18</div>
<div class="ax axl" style="top:392px;">57.00</div>
<div class="ax axr" style="top:14px;">72.26</div>
<div class="ax axr" style="top:68px;">70.08</div>
<div class="ax axr" style="top:122px;">67.90</div>
<div class="ax axr" style="top:176px;">65.72</div>
<div class="ax axr" style="top:230px;">63.54</div>
<div class="ax axr" style="top:284px;">61.36</div>
<div class="ax axr" style="top:338px;">59.18</div>
<div class="ax axr" style="top:392px;">57.00</div>

<div class="t" style="left:298px;top:51px;color:#e84a5a;font-weight:bold;">70.51</div>
<div class="t" style="left:415px;top:290px;color:#4fb888;font-weight:bold;">61.45</div>
<div class="t" style="left:676px;top:152px;color:#e84a5a;font-weight:bold;">66.42</div>
<div class="t" style="left:820px;top:426px;color:#4fb888;font-weight:bold;">55.96</div>

<div style="position:absolute;left:1106px;top:363px;width:69px;height:18px;border:1px solid #f0a030;background:#000;box-sizing:border-box;"></div>
<div class="t" style="left:1109px;top:365px;color:#f0a030;">58.48</div>

<!-- MACD -->
<div class="t" style="left:92px;top:455px;color:#e0e0e0;">MACD(26,12,9) DIFF:-0.50</div>
<div class="t" style="left:247px;top:455px;color:#e8e020;">DEA:-0.46</div>
<div class="t" style="left:311px;top:455px;color:#e040e0;">MACD:-0.08</div>
<div class="ax axl" style="top:467px;">1.50</div>
<div class="ax axl" style="top:493px;">0.86</div>
<div class="ax axl" style="top:519px;">0.21</div>
<div class="ax axl" style="top:545px;">-0.44</div>
<div class="ax axl" style="top:571px;">-1.09</div>
<div class="ax axr" style="top:467px;">1.50</div>
<div class="ax axr" style="top:493px;">0.86</div>
<div class="ax axr" style="top:519px;">0.21</div>
<div class="ax axr" style="top:545px;">-0.44</div>
<div class="ax axr" style="top:571px;">-1.09</div>

<!-- KDJ -->
<div class="t" style="left:92px;top:607px;color:#e0e0e0;">KDJ(9,3,3) K:39.40</div>
<div class="t" style="left:203px;top:607px;color:#e8e020;">D:38.03</div>
<div class="t" style="left:255px;top:607px;color:#e040e0;">J:42.12</div>
<div class="ax axl" style="top:619px;">111.47</div>
<div class="ax axl" style="top:646px;">80.18</div>
<div class="ax axl" style="top:673px;">48.88</div>
<div class="ax axl" style="top:700px;">17.59</div>
<div class="ax axr" style="top:619px;">111.47</div>
<div class="ax axr" style="top:646px;">80.18</div>
<div class="ax axr" style="top:673px;">48.88</div>
<div class="ax axr" style="top:700px;">17.59</div>

<!-- dates -->
<div class="t" style="left:106px;top:737px;font-weight:bold;color:#f4f4f4;">2025/07</div>
<div class="t" style="left:313px;top:737px;font-weight:bold;color:#f4f4f4;">2025/08</div>
<div class="t" style="left:502px;top:737px;font-weight:bold;color:#f4f4f4;">2025/09</div>
<div class="t" style="left:700px;top:737px;font-weight:bold;color:#f4f4f4;">2025/10</div>
<div class="t" style="left:907px;top:737px;font-weight:bold;color:#f4f4f4;">2025/11</div>
<div class="t" style="left:33px;top:740px;font-weight:bold;color:#ff6a00;font-size:13px;">日线 ▲</div>

<div class="t" style="left:1048px;top:718px;font-size:31px;line-height:36px;letter-spacing:1.3px;color:#e6eaf2;">FX678</div>

<!-- toolbar -->
<div class="tb" style="left:20px;width:40px;color:#fff;">指标</div>
<div class="tb" style="left:60px;width:39px;background:#ff6a00;color:#fff;">模板</div>
<div class="tb" style="left:100px;width:56px;color:#ff7a1a;font-family:'Liberation Serif',serif;">VIP指标</div>
<div class="tb" style="left:158px;width:39px;color:#c8c8c8;">标准</div>
<div class="tb" style="left:198px;width:39px;color:#c8c8c8;font-family:'Liberation Mono',monospace;font-size:11px;">BULL</div>
<div class="tb" style="left:238px;width:39px;color:#c8c8c8;font-family:'Liberation Mono',monospace;font-size:11px;">MACD</div>
<div class="tb" style="left:278px;width:63px;background:#ff6a00;color:#fff;">另存模板</div>
<div class="tb" style="left:342px;width:62px;color:#e0e0e0;">管理模板</div>
</body></html>
